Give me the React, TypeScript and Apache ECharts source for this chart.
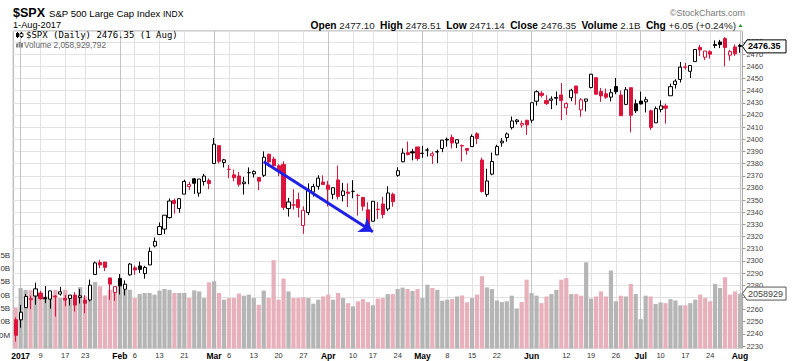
import React, { useEffect, useRef } from 'react';
import * as echarts from 'echarts';

// ---- Data (S&P 500 daily, 30 Dec 2016 – 1 Aug 2017) ----
const dates = [
  '2016-12-30',
  '2017-01-03','2017-01-04','2017-01-05','2017-01-06','2017-01-09','2017-01-10','2017-01-11','2017-01-12','2017-01-13','2017-01-17',
  '2017-01-18','2017-01-19','2017-01-20','2017-01-23','2017-01-24','2017-01-25','2017-01-26','2017-01-27','2017-01-30','2017-01-31',
  '2017-02-01','2017-02-02','2017-02-03','2017-02-06','2017-02-07','2017-02-08','2017-02-09','2017-02-10','2017-02-13','2017-02-14',
  '2017-02-15','2017-02-16','2017-02-17','2017-02-21','2017-02-22','2017-02-23','2017-02-24','2017-02-27','2017-02-28',
  '2017-03-01','2017-03-02','2017-03-03','2017-03-06','2017-03-07','2017-03-08','2017-03-09','2017-03-10','2017-03-13','2017-03-14',
  '2017-03-15','2017-03-16','2017-03-17','2017-03-20','2017-03-21','2017-03-22','2017-03-23','2017-03-24','2017-03-27','2017-03-28',
  '2017-03-29','2017-03-30','2017-03-31',
  '2017-04-03','2017-04-04','2017-04-05','2017-04-06','2017-04-07','2017-04-10','2017-04-11','2017-04-12','2017-04-13','2017-04-17',
  '2017-04-18','2017-04-19','2017-04-20','2017-04-21','2017-04-24','2017-04-25','2017-04-26','2017-04-27','2017-04-28',
  '2017-05-01','2017-05-02','2017-05-03','2017-05-04','2017-05-05','2017-05-08','2017-05-09','2017-05-10','2017-05-11','2017-05-12',
  '2017-05-15','2017-05-16','2017-05-17','2017-05-18','2017-05-19','2017-05-22','2017-05-23','2017-05-24','2017-05-25','2017-05-26',
  '2017-05-30','2017-05-31',
  '2017-06-01','2017-06-02','2017-06-05','2017-06-06','2017-06-07','2017-06-08','2017-06-09','2017-06-12','2017-06-13','2017-06-14',
  '2017-06-15','2017-06-16','2017-06-19','2017-06-20','2017-06-21','2017-06-22','2017-06-23','2017-06-26','2017-06-27','2017-06-28',
  '2017-06-29','2017-06-30',
  '2017-07-03','2017-07-05','2017-07-06','2017-07-07','2017-07-10','2017-07-11','2017-07-12','2017-07-13','2017-07-14','2017-07-17',
  '2017-07-18','2017-07-19','2017-07-20','2017-07-21','2017-07-24','2017-07-25','2017-07-26','2017-07-27','2017-07-28','2017-07-31',
  '2017-08-01',
];

const priorClose = 2249.26;

const opens = [
  2251.61,
  2251.57,2261.60,2268.18,2271.14,2273.59,2269.72,2268.60,2271.14,2272.74,2269.14,
  2269.14,2271.90,2269.96,2267.78,2267.88,2288.88,2298.63,2299.02,2286.01,2274.02,
  2285.59,2276.69,2288.54,2294.28,2295.87,2289.55,2296.70,2312.27,2321.72,2326.12,
  2335.58,2349.64,2343.01,2354.91,2361.11,2367.50,2355.73,2365.23,2366.08,
  2380.13,2394.75,2380.92,2375.23,2370.74,2369.81,2363.49,2372.52,2371.56,2368.55,
  2370.34,2387.71,2383.71,2378.24,2379.32,2343.00,2345.97,2350.42,2329.11,2339.79,
  2356.54,2361.31,2364.82,
  2362.34,2354.76,2366.59,2353.79,2356.59,2357.16,2353.92,2352.15,2341.98,2332.62,
  2342.53,2346.79,2342.69,2354.74,2370.33,2381.51,2388.98,2389.70,2393.68,
  2388.50,2391.05,2386.50,2389.79,2392.37,2399.94,2401.58,2396.79,2394.84,2392.44,
  2393.98,2404.55,2382.95,2354.69,2371.37,2387.21,2397.04,2401.41,2409.54,2414.50,
  2411.67,2415.63,
  2415.65,2431.28,2437.83,2431.92,2432.03,2434.27,2436.39,2425.88,2434.15,2443.75,
  2424.14,2431.24,2442.55,2450.66,2439.31,2437.40,2434.65,2443.32,2436.34,2428.70,
  2442.38,2429.20,
  2431.39,2430.78,2423.44,2413.52,2424.51,2427.35,2435.75,2444.99,2449.16,2459.50,
  2455.88,2463.85,2475.56,2467.40,2472.04,2477.88,2479.97,2482.76,2469.12,2475.94,
  2477.10,
];

const highs = [
  2253.58,
  2263.88,2272.82,2271.50,2282.10,2275.49,2279.27,2275.32,2271.78,2278.68,2272.08,
  2272.01,2274.33,2276.96,2271.78,2284.63,2299.55,2300.99,2299.02,2286.01,2279.09,
  2289.14,2283.97,2298.31,2296.18,2299.40,2295.91,2311.08,2319.23,2331.58,2337.58,
  2351.30,2351.31,2351.16,2366.71,2365.13,2368.26,2367.34,2371.54,2367.79,
  2400.98,2394.75,2383.89,2378.80,2375.12,2373.09,2369.08,2376.86,2374.42,2368.55,
  2390.01,2388.10,2385.71,2379.55,2381.93,2351.81,2358.92,2356.22,2344.90,2363.78,
  2363.36,2370.42,2370.35,
  2365.87,2360.53,2378.36,2364.16,2363.76,2366.37,2355.22,2352.72,2348.26,2349.14,
  2348.35,2352.63,2361.37,2356.18,2376.98,2392.48,2398.16,2392.10,2393.68,
  2394.49,2392.93,2389.82,2391.43,2399.29,2401.36,2403.87,2399.74,2395.72,2392.44,
  2404.05,2405.77,2384.87,2375.74,2389.06,2395.46,2400.85,2405.58,2418.71,2416.68,
  2415.26,2415.99,
  2430.06,2440.23,2439.55,2436.21,2435.28,2439.27,2446.20,2430.38,2441.49,2443.75,
  2433.95,2433.15,2453.82,2450.66,2442.23,2441.62,2441.40,2450.42,2440.15,2442.97,
  2442.73,2432.71,
  2439.17,2434.90,2424.28,2426.92,2432.00,2429.30,2445.76,2449.32,2463.54,2462.82,
  2460.92,2473.83,2477.62,2472.54,2473.10,2481.24,2481.69,2484.04,2473.53,2477.96,
  2478.51,
];

const lows = [
  2233.62,
  2245.13,2261.60,2260.45,2264.06,2268.04,2265.27,2260.83,2254.25,2271.51,2262.81,
  2263.35,2258.41,2265.01,2257.02,2266.68,2288.88,2294.08,2291.62,2268.04,2267.21,
  2272.44,2271.65,2287.88,2288.57,2290.16,2285.38,2296.61,2311.10,2321.42,2322.17,
  2334.81,2338.87,2339.58,2354.91,2358.34,2355.09,2352.87,2361.87,2358.96,
  2380.13,2380.17,2376.86,2367.98,2365.51,2361.01,2354.54,2363.04,2368.52,2358.18,
  2368.94,2377.18,2377.64,2369.66,2341.90,2336.45,2342.13,2335.74,2322.25,2337.63,
  2352.94,2358.58,2362.60,
  2344.73,2350.72,2350.52,2348.90,2344.25,2351.50,2337.25,2341.18,2328.95,2332.51,
  2334.54,2335.05,2340.91,2344.51,2369.19,2381.15,2386.78,2382.68,2382.36,
  2384.83,2385.82,2379.75,2380.35,2389.38,2393.92,2392.44,2392.79,2381.74,2387.19,
  2393.94,2396.05,2356.21,2352.72,2370.43,2386.92,2393.88,2397.99,2408.01,2412.20,
  2409.43,2403.59,
  2413.54,2427.71,2434.32,2428.12,2424.75,2427.94,2415.70,2419.97,2431.28,2428.34,
  2418.53,2422.88,2441.79,2436.60,2430.74,2433.27,2431.11,2437.03,2419.38,2428.02,
  2405.70,2421.65,
  2428.69,2422.05,2407.70,2413.52,2422.27,2412.79,2435.75,2441.69,2446.69,2457.16,
  2450.34,2463.85,2468.43,2465.06,2466.32,2474.91,2474.94,2459.93,2464.66,2468.53,
  2471.14,
];

const closes = [
  2238.83,
  2257.83,2270.75,2269.00,2276.98,2268.90,2268.90,2275.32,2270.44,2274.64,2267.89,
  2271.89,2263.69,2271.31,2265.20,2280.07,2298.37,2296.68,2294.69,2280.90,2278.87,
  2279.55,2280.85,2297.42,2292.56,2293.08,2294.67,2307.87,2316.10,2328.25,2337.58,
  2349.25,2347.22,2351.16,2365.38,2362.82,2363.81,2367.34,2369.75,2363.64,
  2395.96,2381.92,2383.12,2375.31,2368.39,2362.98,2364.87,2372.60,2373.47,2365.45,
  2385.26,2381.38,2378.25,2373.47,2344.02,2348.45,2345.96,2343.98,2341.59,2358.57,
  2361.13,2368.06,2362.72,
  2358.84,2360.16,2352.95,2357.49,2355.54,2357.16,2353.78,2344.93,2328.95,2349.01,
  2342.19,2338.17,2355.84,2348.69,2374.15,2388.61,2387.45,2388.77,2384.20,
  2388.33,2391.17,2388.13,2389.52,2399.29,2399.38,2396.92,2399.63,2394.44,2390.90,
  2402.32,2400.67,2357.03,2365.72,2381.73,2394.02,2398.42,2404.39,2415.07,2415.82,
  2412.91,2411.80,
  2430.06,2439.07,2436.10,2429.33,2433.14,2433.79,2431.77,2429.39,2440.35,2437.92,
  2432.46,2433.15,2453.46,2437.03,2435.61,2434.50,2438.30,2439.07,2419.38,2440.69,
  2419.70,2423.41,
  2429.01,2432.54,2409.75,2425.18,2427.43,2425.53,2443.25,2447.83,2459.27,2459.14,
  2460.61,2473.83,2473.45,2472.54,2469.91,2477.13,2477.83,2475.42,2472.10,2470.30,
  2476.35,
];

// volume in billions of shares
const volumes = [
  1.54,
  2.27,2.20,2.18,2.25,1.95,1.95,2.02,2.20,1.89,2.20,
  1.95,1.89,2.30,1.95,2.30,2.49,2.33,1.99,2.20,2.27,
  2.58,2.20,2.20,1.89,2.04,2.08,2.08,2.02,2.17,2.23,
  2.20,2.08,2.08,2.08,1.89,2.18,2.14,1.89,2.48,
  2.52,2.08,1.83,1.89,1.89,2.06,1.98,2.02,1.89,1.64,
  2.17,1.89,3.31,1.83,2.62,2.14,1.89,1.89,1.92,1.89,
  1.68,1.83,1.95,
  2.02,1.83,2.08,1.89,1.70,1.58,1.77,1.85,1.74,1.62,
  1.87,1.89,2.04,2.04,2.23,2.28,2.23,2.16,2.23,
  1.89,2.39,2.27,2.20,1.79,1.83,1.85,1.95,1.99,1.73,
  1.89,2.02,2.71,2.29,2.23,1.80,1.74,1.77,1.98,1.50,
  1.74,2.58,
  2.08,1.98,1.70,1.95,2.04,2.20,2.58,2.64,2.04,2.04,
  1.98,3.23,1.87,1.95,2.14,1.95,2.92,1.77,1.98,1.95,
  2.42,2.04,
  1.10,1.98,1.95,1.67,1.73,1.70,1.85,1.80,1.62,1.62,
  1.70,1.83,2.02,1.89,1.77,2.42,2.27,2.67,2.02,2.14,
  2.058929792,
];

// x-axis tick labels
const monthTickDates = ['2017-01-03','2017-02-01','2017-03-01','2017-04-03','2017-05-01','2017-06-01','2017-07-03','2017-08-01'];
const monthTickLabels = ['2017','Feb','Mar','Apr','May','Jun','Jul','Aug'];
const weekTickDates = [
  '2017-01-09','2017-01-17','2017-01-23','2017-02-06','2017-02-13','2017-02-21','2017-03-06','2017-03-13','2017-03-20','2017-03-27',
  '2017-04-10','2017-04-17','2017-04-24','2017-05-08','2017-05-15','2017-05-22','2017-06-12','2017-06-19','2017-06-26',
  '2017-07-10','2017-07-17','2017-07-24',
];
const volumeTickLabels = ['500M','1.0B','1.5B','2.0B','2.5B','3.0B','3.5B'];

// trend arrow annotation
const arrowFrom = { date: '2017-03-15', price: 2381.5 };
const arrowTo = { date: '2017-04-17', price: 2324 };

const RED = '#dc143c';
const BLACK = '#000000';
const PINK = '#e8b0ba';
const GRAY = '#b5b5b5';
const FONT = '"Liberation Sans", Arial, sans-serif';

export default function App() {
  const ref = useRef<HTMLDivElement>(null);

  useEffect(() => {
    document.body.style.margin = '0';
    const chart = echarts.init(ref.current!, null, { renderer: 'svg' });

    const monthIdx = new Map<number, string>();
    monthTickDates.forEach((d, k) => monthIdx.set(dates.indexOf(d), monthTickLabels[k]));
    const weekIdx = new Map<number, string>();
    weekTickDates.forEach((d) => weekIdx.set(dates.indexOf(d), String(Number(d.slice(8)))));

    const candleData = dates.map((_, i) => {
      const o = opens[i], c = closes[i];
      const prev = i === 0 ? priorClose : closes[i - 1];
      const stroke = c < prev ? RED : BLACK;
      const fill = c >= o ? '#ffffff' : stroke;
      return {
        value: [o, c, lows[i], highs[i]],
        itemStyle: { color: fill, color0: fill, borderColor: stroke, borderColor0: stroke, borderWidth: 1 },
      };
    });
    const volData = volumes.map((v, i) => {
      const prev = i === 0 ? priorClose : closes[i - 1];
      return { value: v, itemStyle: { color: closes[i] < prev ? PINK : GRAY } };
    });

    const volTickVals = volumeTickLabels.map((_, k) => 0.5 * (k + 1));

    chart.setOption({
      animation: false,
      grid: {
        left: 13.2, right: 57.6, top: 31, bottom: 12.5,
        containLabel: false, outerBoundsMode: 'none',
        show: true, borderColor: '#a0a0a0', borderWidth: 1, backgroundColor: 'transparent',
      },
      xAxis: [
        {
          type: 'category', data: dates, boundaryGap: true, position: 'bottom',
          axisLine: { show: false }, axisTick: { show: false },
          axisLabel: {
            interval: (i: number) => monthIdx.has(i) || weekIdx.has(i),
            formatter: (_: string, i: number) => (monthIdx.has(i) ? `{m|${monthIdx.get(i)}}` : weekIdx.get(i) || ''),
            fontFamily: FONT, fontSize: 7.5, color: '#333', margin: 3,
            rich: { m: { fontFamily: FONT, fontWeight: 'bold', fontSize: 8.5, color: '#000' } },
          },
          splitLine: {
            show: true, alignWithLabel: true,
            interval: (i: number) => weekIdx.has(i),
            lineStyle: { color: '#e2e2e2', width: 1 },
          },
        },
        {
          type: 'category', data: dates, boundaryGap: true, position: 'top',
          axisLine: { show: false }, axisTick: { show: false }, axisLabel: { show: false },
          splitLine: {
            show: true, alignWithLabel: true,
            interval: (i: number) => monthIdx.has(i),
            lineStyle: { color: '#c4c4c4', width: 1 },
          },
        },
      ],
      yAxis: [
        {
          type: 'value', position: 'right', min: 2228, max: 2489, splitNumber: 26, scale: true,
          axisLine: { show: false },
          axisTick: { show: true, length: 3, lineStyle: { color: '#999' } },
          axisLabel: {
            showMinLabel: false, showMaxLabel: false,
            formatter: (v: number) => (Math.abs(v - Math.round(v / 10) * 10) < 0.01 ? String(Math.round(v)) : ''),
            fontFamily: FONT, fontSize: 7.5, color: '#444', margin: 4,
          },
          splitLine: { show: true, lineStyle: { color: '#e2e2e2', width: 1 } },
        },
        {
          type: 'value', position: 'left', min: 0, max: 11.9, interval: 0.5,
          axisLine: { show: false }, axisTick: { show: false },
          axisLabel: {
            formatter: (v: number) => {
              const k = volTickVals.findIndex((t) => Math.abs(t - v) < 1e-6);
              return k >= 0 ? volumeTickLabels[k] : '';
            },
            fontFamily: FONT, fontSize: 8, color: '#333', margin: 3,
          },
          splitLine: { show: false },
        },
      ],
      series: [
        {
          type: 'bar', name: 'Volume', data: volData, xAxisIndex: 0, yAxisIndex: 1,
          barWidth: 4.2, z: 1, silent: true,
        },
        {
          type: 'candlestick', name: '$SPX', data: candleData, xAxisIndex: 0, yAxisIndex: 0,
          barWidth: 3.6, z: 3, silent: true, clip: false,
          markLine: {
            silent: true, symbol: ['none', 'arrow'], symbolSize: 13, z: 10,
            label: { show: false },
            lineStyle: { color: '#1f1fe8', width: 3, type: 'solid' },
            emphasis: { disabled: true },
            data: [[{ coord: [arrowFrom.date, arrowFrom.price] }, { coord: [arrowTo.date, arrowTo.price] }]],
          },
        },
      ],
    });

    const n = closes.length - 1;
    const lastClose = closes[n];
    const lastVol = volumes[n];
    const chg = closes[n] - closes[n - 1];
    const chgPct = (chg / closes[n - 1]) * 100;
    const yP = chart.convertToPixel({ yAxisIndex: 0 }, lastClose) as number;
    const yV = chart.convertToPixel({ yAxisIndex: 1 }, lastVol) as number;
    const volStr = Math.round(lastVol * 1e9).toLocaleString('en-US');
    const volShort = (lastVol).toFixed(1) + 'B';

    const marker = (y: number, text: string, stroke: string, color: string, bold: boolean) => ({
      type: 'group', z: 100,
      children: [
        {
          type: 'polygon', z: 100,
          shape: { points: [[742.5, y], [747, y - 6.5], [786, y - 6.5], [786, y + 6.5], [747, y + 6.5]] },
          style: { fill: '#fff', stroke, lineWidth: 1 },
        },
        {
          type: 'text', z: 101, x: 748, y,
          style: { text, font: `${bold ? 'bold ' : ''}9px ${FONT}`, fill: color, align: 'left', verticalAlign: 'middle' },
        },
      ],
    });

    chart.setOption({
      graphic: [
        { type: 'text', x: 13, y: 13, style: { text: '$SPX', font: `bold 12.5px ${FONT}`, fill: '#000', verticalAlign: 'middle' } },
        { type: 'text', x: 49, y: 13.5, style: { text: 'S&P 500 Large Cap Index', font: `9.6px ${FONT}`, fill: '#000', verticalAlign: 'middle' } },
        { type: 'text', x: 163, y: 14, style: { text: 'INDX', font: `8.5px ${FONT}`, fill: '#000', verticalAlign: 'middle' } },
        { type: 'text', x: 13, y: 25, style: { text: '1-Aug-2017', font: `9.2px ${FONT}`, fill: '#000', verticalAlign: 'middle' } },
        { type: 'text', x: 745, y: 13, style: { text: '\u00a9StockCharts.com', font: `9px ${FONT}`, fill: '#777', align: 'right', verticalAlign: 'middle' } },
        {
          type: 'text', x: 736, y: 25,
          style: {
            text: `{b|Open} ${opens[n].toFixed(2)}  {b|High} ${highs[n].toFixed(2)}  {b|Low} ${lows[n].toFixed(2)}  {b|Close} ${lastClose.toFixed(2)}  {b|Volume} ${volShort}  {b|Chg} +${chg.toFixed(2)} (+${chgPct.toFixed(2)}%)`,
            font: `9.8px ${FONT}`, fill: '#222', align: 'right', verticalAlign: 'middle',
            rich: { b: { fontWeight: 'bold', fontSize: 10.2, fontFamily: FONT, fill: '#000' } },
          },
        },
        { type: 'polygon', shape: { points: [[738.5, 27], [742.5, 27], [740.5, 24]] }, style: { fill: '#1a9a2a' } },
        // legend
        { type: 'line', shape: { x1: 17.5, y1: 32, x2: 17.5, y2: 38 }, style: { stroke: '#000', lineWidth: 1 } },
        { type: 'rect', shape: { x: 16, y: 33, width: 3, height: 4 }, style: { fill: '#000' } },
        { type: 'line', shape: { x1: 21.5, y1: 32, x2: 21.5, y2: 38 }, style: { stroke: '#000', lineWidth: 1 } },
        { type: 'rect', shape: { x: 20, y: 33.5, width: 3, height: 3 }, style: { fill: '#fff', stroke: '#000', lineWidth: 0.8 } },
        { type: 'text', x: 26, y: 35, style: { text: `$SPX (Daily) ${lastClose.toFixed(2)} (1 Aug)`, font: `9px "DejaVu Sans Mono", monospace`, fill: '#000', verticalAlign: 'middle' } },
        { type: 'rect', shape: { x: 16, y: 43.5, width: 2, height: 4 }, style: { fill: '#888' } },
        { type: 'rect', shape: { x: 18.5, y: 42, width: 2, height: 5.5 }, style: { fill: '#888' } },
        { type: 'rect', shape: { x: 21, y: 43, width: 2, height: 4.5 }, style: { fill: '#888' } },
        { type: 'text', x: 24, y: 45, style: { text: `Volume ${volStr}`, font: `8.2px ${FONT}`, fill: '#666', verticalAlign: 'middle' } },
        marker(yP, lastClose.toFixed(2), '#000', '#000', true),
        marker(yV, String(Math.round(lastVol * 1e9)).slice(0, 7), '#555', '#444', false),
      ],
    });

    return () => chart.dispose();
  }, []);

  return <div ref={ref} style={{ width: 800, height: 361 }} />;
}
